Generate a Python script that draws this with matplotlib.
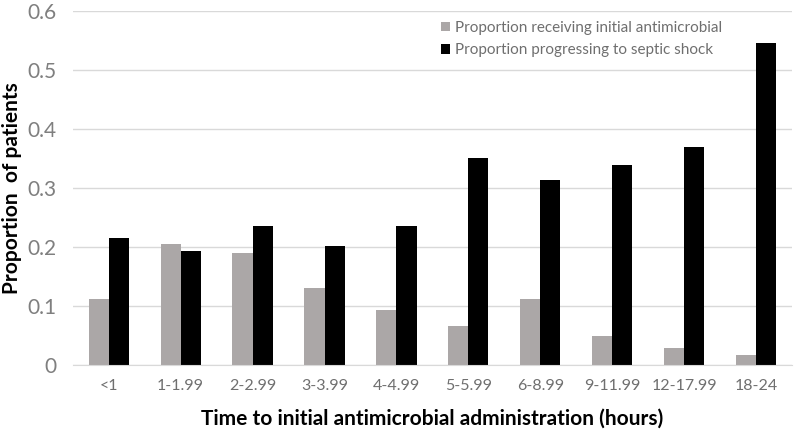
import numpy as np
import matplotlib
matplotlib.use('Agg')
import matplotlib.pyplot as plt

# 数据
categories = ['<1', '1-1.99', '2-2.99', '3-3.99', '4-4.99', '5-5.99',
              '6-8.99', '9-11.99', '12-17.99', '18-24']
received = [0.112, 0.205, 0.190, 0.130, 0.093, 0.066, 0.112, 0.050, 0.029, 0.017]
septic = [0.215, 0.193, 0.236, 0.202, 0.236, 0.351, 0.314, 0.339, 0.370, 0.546]

plt.rcParams['font.family'] = ['Lato', 'DejaVu Sans']

fig = plt.figure(figsize=(8, 4.33), dpi=100)
ax = fig.add_axes([0.091, 0.157, 0.899, 0.818])

x = np.arange(len(categories))
w = 0.28
ax.bar(x - w / 2, received, w, color='#aba7a7', label='Proportion receiving initial antimicrobial', zorder=2)
ax.bar(x + w / 2, septic, w, color='#000000', label='Proportion progressing to septic shock', zorder=2)

ax.set_xlim(-0.5, len(categories) - 0.5)
ax.set_ylim(0, 0.6)
ax.set_yticks(np.arange(0, 0.61, 0.1))
ax.set_yticklabels(['0', '0.1', '0.2', '0.3', '0.4', '0.5', '0.6'])
ax.set_xticks(x)
ax.set_xticklabels(categories)
ax.tick_params(axis='y', length=0, labelsize=15, labelcolor='#7f7f7f', pad=12)
ax.tick_params(axis='x', length=0, labelsize=11.5, labelcolor='#6f6f6f', pad=10)

ax.yaxis.grid(True, color='#d9d9d9', linewidth=1, zorder=0)
for s in ['top', 'right', 'left']:
    ax.spines[s].set_visible(False)
ax.spines['bottom'].set_color('#d9d9d9')

ax.set_xlabel('Time to initial antimicrobial administration (hours)', fontsize=15,
              fontweight='bold', labelpad=11)
ax.set_ylabel('Proportion  of patients', fontsize=15, fontweight='bold', va='center')
ax.yaxis.set_label_coords(-0.084, 0.5)

leg = ax.legend(loc='upper right', bbox_to_anchor=(0.922, 1.01), frameon=False, fontsize=11,
                handlelength=0.6, handleheight=0.6, handletextpad=0.3, labelspacing=0.55)
for t in leg.get_texts():
    t.set_color('#6f6f6f')

fig.savefig('out.png', dpi=100)
